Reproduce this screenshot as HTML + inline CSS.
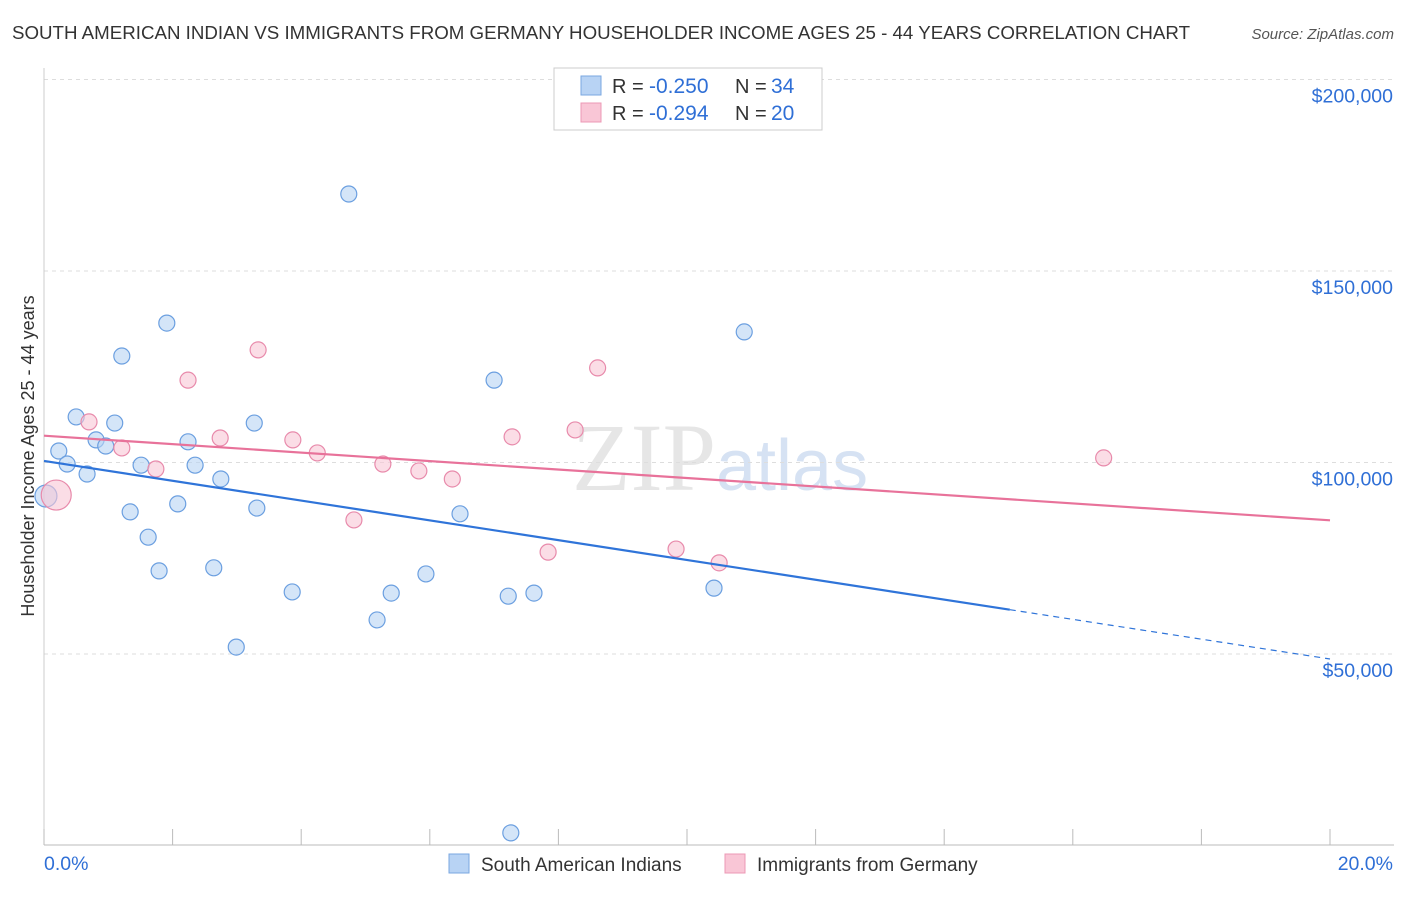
<!DOCTYPE html>
<html><head><meta charset="utf-8">
<style>
html,body{margin:0;padding:0;background:#fff;}
body{width:1406px;height:892px;overflow:hidden;font-family:"Liberation Sans",sans-serif;}
</style></head>
<body>
<svg id="chart" width="1406" height="892" xmlns="http://www.w3.org/2000/svg" font-family="Liberation Sans, sans-serif">
<text x="12" y="39" font-size="18.5" fill="#333" textLength="1178" lengthAdjust="spacingAndGlyphs">SOUTH AMERICAN INDIAN VS IMMIGRANTS FROM GERMANY HOUSEHOLDER INCOME AGES 25 - 44 YEARS CORRELATION CHART</text>
<text x="1394" y="39" font-size="15" fill="#555" font-style="italic" text-anchor="end">Source: ZipAtlas.com</text>
<text transform="translate(34,456) rotate(-90)" font-size="18" fill="#333" text-anchor="middle">Householder Income Ages 25 - 44 years</text>
<text x="716" y="490" font-size="96" fill="#e6e6e6" text-anchor="end" font-family="Liberation Serif, serif">ZIP</text>
<text x="716" y="490" font-size="72" fill="#d6e2f3">atlas</text>
<g id="grid"></g>
<g id="marks"></g>
<g>
<rect x="554" y="68" width="268" height="62" fill="#fff" stroke="#ccc"/>
<rect x="581" y="76" width="20" height="19" fill="#b8d3f4" stroke="#7aa7e0"/>
<rect x="581" y="103" width="20" height="19" fill="#f9c6d6" stroke="#ec98b5"/>
<text x="612" y="93" font-size="20" fill="#333">R =</text>
<text x="649" y="93" font-size="21" fill="#2f6fd6">-0.250</text>
<text x="735" y="93" font-size="20" fill="#333">N =</text>
<text x="771" y="93" font-size="21" fill="#2f6fd6">34</text>
<text x="612" y="120" font-size="20" fill="#333">R =</text>
<text x="649" y="120" font-size="21" fill="#2f6fd6">-0.294</text>
<text x="735" y="120" font-size="20" fill="#333">N =</text>
<text x="771" y="120" font-size="21" fill="#2f6fd6">20</text>
</g>
<g>
<rect x="449" y="854" width="20" height="19" fill="#b8d3f4" stroke="#7aa7e0"/>
<text x="481" y="871" font-size="19" fill="#333">South American Indians</text>
<rect x="725" y="854" width="20" height="19" fill="#f9c6d6" stroke="#ec98b5"/>
<text x="757" y="871" font-size="19" fill="#333">Immigrants from Germany</text>
</g>
<text x="44" y="870" font-size="19.5" fill="#2f6fd6">0.0%</text>
<text x="1393" y="870" font-size="19.5" fill="#2f6fd6" text-anchor="end">20.0%</text>
</svg>
<script>
const blueX=[0.03,0.23,0.36,0.50,0.67,0.81,0.96,1.10,1.21,1.34,1.51,1.62,1.79,1.91,2.08,2.24,2.35,2.64,2.75,2.99,3.27,3.31,3.86,4.74,5.18,5.40,5.94,6.47,7.00,7.22,7.26,7.62,10.42,10.89];
const blueY=[91250,103000,99600,111900,97000,105900,104300,110300,127800,87100,99300,80500,71700,136400,89200,105400,99300,72500,95700,51800,110300,88100,66200,170100,58900,65900,70900,86600,121500,65100,3300,65900,67200,134100];
const pinkX=[0.19,0.70,1.21,1.74,2.24,2.74,3.33,3.87,4.25,4.82,5.27,5.83,6.35,7.28,7.84,8.26,8.61,9.83,10.50,16.48];
const pinkY=[91500,110600,103800,98300,121500,106400,129400,105900,102500,85000,99600,97800,95700,106700,76600,108500,124700,77400,73800,101200];
const blueTrend=[100400,48700];
const blueSolidEnd=15.02;
const pinkTrend=[107000,84900];
const yTicks=[50000,100000,150000,200000];
const yTickLabels=["$50,000","$100,000","$150,000","$200,000"];
const xTicks=[0,2,4,6,8,10,12,14,16,18,20];

const NS="http://www.w3.org/2000/svg";
function xs(v){return 44+v/20*1286;}
function ys(v){return 654-(v-50000)*191.5/50000;}
function mk(tag,attrs,parent){const e=document.createElementNS(NS,tag);for(const k in attrs)e.setAttribute(k,attrs[k]);parent.appendChild(e);return e;}
const grid=document.getElementById('grid'),marks=document.getElementById('marks');
yTicks.forEach((t,i)=>{
  const l=mk('line',{x1:44,x2:1394,y1:ys(t),y2:ys(t),stroke:'#ddd','stroke-dasharray':'4,4'},grid);
  
  
  const tx=mk('text',{x:1393,y:ys(t)+23,'font-size':19.5,fill:'#2f6fd6','text-anchor':'end'},grid);
  tx.textContent=yTickLabels[i];
  
  
});
const ax=mk('line',{x1:44,x2:1394,y1:845,y2:845,stroke:'#bbb'},grid);


const ay=mk('line',{x1:44,x2:44,y1:68,y2:845,stroke:'#ccc'},grid);


xTicks.forEach(t=>{
  const l=mk('line',{x1:xs(t),x2:xs(t),y1:829,y2:845,stroke:'#bbb'},grid);
  
  
});
function pt(x,y,r,fill,stroke,name){
  const c=mk('circle',{cx:xs(x),cy:ys(y),r:r,fill:fill,'fill-opacity':0.6,stroke:stroke,'stroke-width':1.2},marks);
  
  
}
blueX.forEach((x,i)=>pt(x,blueY[i],i===0?11:8,'#b8d3f4','#6b9fe0','point-south-american-indians'));
pinkX.forEach((x,i)=>pt(x,pinkY[i],i===0?15:8,'#f9c6d6','#e88aab','point-immigrants-germany'));
function yAt(tr,x){return tr[0]+(tr[1]-tr[0])*x/20;}
const pl=mk('line',{x1:xs(0),y1:ys(pinkTrend[0]),x2:xs(20),y2:ys(pinkTrend[1]),stroke:'#e8729a','stroke-width':2.2},marks);


const bl=mk('line',{x1:xs(0),y1:ys(blueTrend[0]),x2:xs(blueSolidEnd),y2:ys(yAt(blueTrend,blueSolidEnd)),stroke:'#2f74d9','stroke-width':2.2},marks);


const bd=mk('line',{x1:xs(blueSolidEnd),y1:ys(yAt(blueTrend,blueSolidEnd)),x2:xs(20),y2:ys(blueTrend[1]),stroke:'#2f74d9','stroke-width':1.2,'stroke-dasharray':'6,5'},marks);


</script>
</body></html>
